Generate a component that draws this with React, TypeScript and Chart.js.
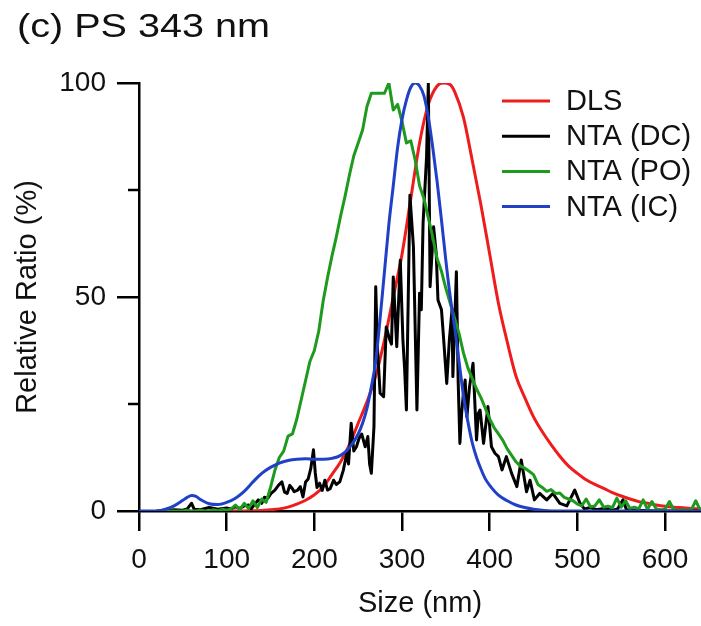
import React, { useEffect, useRef } from "react";
import { Chart, registerables } from "chart.js";

Chart.register(...registerables);

const FONT = "'Liberation Sans', Arial, sans-serif";
const TITLE = "(c) PS 343 nm";
const X_TITLE = "Size (nm)";
const Y_TITLE = "Relative Ratio (%)";
const SERIES_LABELS = ["DLS", "NTA (DC)", "NTA (PO)", "NTA (IC)"];
const SERIES_COLORS = ["#ee1c1c", "#000000", "#1e9a1e", "#2040c8"];
const X_TICKS = [0, 100, 200, 300, 400, 500, 600];
const Y_TICKS = [0, 50, 100];
const Y_MINOR_TICKS = [25, 75];
const X_MIN = 0;
const X_MAX = 641;
const Y_MIN = 0;
const Y_MAX = 100;

// DLS (red)
const dlsX = [100, 120, 130, 140, 150, 160, 170, 180, 190, 200, 210, 220, 230, 240, 250, 260, 270, 280, 290, 300, 310, 320, 330, 340, 347, 355, 360, 370, 380, 390, 400, 410, 420, 430, 440, 450, 460, 470, 480, 490, 500, 510, 520, 530, 540, 550, 560, 570, 580, 590, 600, 610, 620, 630, 641];
const dlsY = [0, 0, 0.05, 0.1, 0.3, 0.5, 0.9, 1.6, 2.5, 3.8, 5.6, 8.5, 11.5, 15.5, 20.5, 25.5, 31.5, 40, 50, 60, 73, 86, 95, 99.3, 100, 99.6, 98, 92, 82, 71.5, 60, 48.5, 39.5, 31.5, 26.5, 22, 18.5, 15.5, 12.8, 10.5, 8.8, 7.3, 6.2, 5.3, 4.3, 3.5, 2.8, 2.2, 1.8, 1.4, 1.1, 0.9, 0.75, 0.6, 0.5];

// NTA (DC) (black)
const dcX = [20, 30, 40, 50, 55, 60, 63, 70, 80, 90, 100, 105, 110, 115, 120, 125, 128, 132, 136, 140, 143, 147, 151, 155, 159, 163, 166, 169, 172, 175, 177, 181, 184, 187, 190, 193, 196, 199, 201, 203, 206, 209, 212, 215, 218, 222, 225, 229, 233, 237, 239, 242, 245, 248, 251, 254, 258, 261, 263, 265, 268, 270, 272, 275, 279, 282, 286, 288, 290, 294, 298, 301, 303, 305, 309, 313, 317, 320, 322, 324, 328, 330, 332, 336, 339, 341, 345, 347, 351, 354, 357, 358, 362, 364, 366, 368, 370, 372, 374, 377, 381, 385, 387, 389, 393, 398, 402, 406, 410, 414, 419, 425, 431, 436, 442, 446, 451, 457, 465, 472, 480, 488, 497, 503, 508, 515, 522, 530, 540, 546, 552, 556, 565, 575, 590, 641];
const dcY = [0, 0, 0.3, 0.2, 0.5, 1.8, 0.4, 0.3, 0.8, 0.4, 0.7, 0.5, 1.0, 0.6, 1.2, 1.4, 0.5, 1.6, 2.6, 1.8, 3.2, 3.0, 4.2, 4.9, 6.0, 6.8, 4.4, 4.1, 6.0, 5.2, 4.5, 4.9, 5.7, 3.3, 6.8, 7.5, 10, 14.3, 9, 5.5, 6.5, 4.8, 7.2, 4.9, 5.2, 7.2, 6.2, 6.8, 9.5, 13.5, 11, 20.5, 14, 15, 17, 18, 15, 17.4, 11, 8.8, 19.7, 52.4, 38, 27.5, 26.7, 43, 40, 39, 54.7, 38.4, 58.6, 40, 33, 23.6, 73.8, 61.8, 23.6, 50.9, 47, 67.2, 82.8, 100, 52.4, 66.4, 60.2, 49.3, 47, 41.5, 29.8, 40, 47, 31.4, 55.9, 30.6, 15.8, 22.8, 27.5, 30.6, 22, 29, 34.5, 16.6, 22.8, 23.6, 15.8, 24.4, 15, 13.5, 12.7, 9.6, 12.7, 8.8, 5.7, 11.9, 4.5, 7.2, 2.6, 4.1, 2.6, 4.1, 1.8, 1.2, 4.9, 1.8, 0.5, 0.8, 0.3, 0.6, 0.2, 0.5, 2.6, 0.3, 0.2, 0.1, 0, 0];

// NTA (PO) (green)
const poX = [20, 25, 30, 35, 40, 45, 50, 55, 60, 65, 70, 75, 80, 85, 90, 95, 100, 105, 110, 115, 120, 125, 130, 135, 140, 145, 150, 155, 160, 165, 170, 175, 180, 185, 190, 195, 200, 205, 210, 215, 220, 225, 230, 235, 240, 245, 250, 255, 260, 265, 270, 275, 280, 285, 290, 295, 300, 305, 310, 315, 320, 325, 330, 335, 340, 345, 350, 355, 360, 365, 370, 375, 380, 385, 390, 395, 400, 405, 410, 415, 420, 425, 430, 435, 440, 445, 450, 455, 460, 465, 470, 475, 480, 485, 490, 495, 500, 505, 510, 515, 520, 525, 530, 535, 540, 545, 550, 555, 560, 565, 570, 575, 580, 585, 590, 595, 600, 605, 610, 615, 620, 625, 630, 635, 640];
const poY = [0, 0, 0, 0, 0, 0, 0, 0.2, 0, 0, 0.2, 0, 0, 0.3, 0, 0.4, 0.2, 0.5, 1.4, 0.3, 1.8, 0.6, 2.4, 0.8, 2.8, 2.0, 5.5, 9.5, 12.5, 14, 17.5, 18, 21.5, 26, 30.5, 35, 37.5, 42, 49, 54.5, 59.5, 64, 69, 73.5, 78.5, 83, 86, 89, 94.5, 97.6, 97.6, 97.6, 97.6, 100, 93.7, 95, 91, 86, 86.5, 82, 76, 73, 68.5, 64, 59, 56, 52, 48.5, 45, 41.5, 37, 33.5, 31, 28.5, 26.5, 24, 21.5, 19.5, 18, 16.5, 14.5, 13, 11.5, 10.5, 10, 9.3, 8.5, 6.2, 5.5, 4.6, 5, 4.1, 4.2, 3.2, 2.8, 2.4, 1.6, 1.2, 2.8, 1.0, 1.2, 2.6, 0.9, 1.1, 0.8, 3.0, 0.9, 2.4, 0.6, 0.9, 0.5, 2.6, 0.4, 2.2, 0.5, 0.3, 0.4, 2.2, 0.3, 0.2, 0.3, 0.2, 0.3, 2.4, 0.2];

// NTA (IC) (blue)
const icX = [0, 10, 20, 25, 30, 40, 50, 55, 60, 65, 70, 80, 90, 100, 110, 120, 130, 140, 150, 160, 170, 180, 190, 200, 210, 220, 230, 240, 250, 255, 260, 265, 270, 275, 280, 285, 290, 295, 300, 305, 310, 315, 320, 325, 330, 335, 340, 345, 350, 355, 360, 365, 370, 375, 380, 385, 390, 395, 400, 410, 420, 430, 440, 450, 460, 470, 500, 641];
const icY = [0, 0, 0, 0.1, 0.4, 1.2, 2.5, 3.2, 3.6, 3.4, 2.7, 1.7, 1.5, 2.0, 3.0, 4.6, 6.8, 8.8, 10.2, 11.2, 11.8, 12.1, 12.2, 12.1, 12.1, 12.3, 13, 14.8, 18, 20.5, 24, 29, 35, 45, 56, 67, 76, 85, 91.5, 96, 99, 100, 99.3, 97, 92, 85, 77, 68, 58.5, 50, 43, 35, 27, 21, 16, 12.5, 9.8, 7.5, 6, 3.7, 2.4, 1.4, 0.8, 0.4, 0.15, 0, 0, 0];

const toPoints = (xs: number[], ys: number[]) => xs.map((x, i) => ({ x, y: ys[i] }));

const overlayPlugin = {
  id: "overlay",
  afterDraw(chart: any) {
    const ctx = chart.ctx as CanvasRenderingContext2D;
    const yScale = chart.scales.y;
    const area = chart.chartArea;
    ctx.save();
    // minor y ticks
    ctx.strokeStyle = "#000";
    ctx.lineWidth = 2.5;
    for (const v of Y_MINOR_TICKS) {
      const py = Math.round(yScale.getPixelForValue(v));
      ctx.beginPath();
      ctx.moveTo(area.left - 11, py);
      ctx.lineTo(area.left, py);
      ctx.stroke();
    }
    // title
    ctx.fillStyle = "#111";
    ctx.font = `33px ${FONT}`;
    ctx.textBaseline = "alphabetic";
    ctx.textAlign = "left";
    ctx.save();
    ctx.translate(17, 37);
    ctx.scale(1.2, 1);
    ctx.fillText(TITLE, 0, 0);
    ctx.restore();
    // legend
    ctx.font = `29px ${FONT}`;
    ctx.textBaseline = "middle";
    const lx = area.right - 199;
    const ly = area.top + 18;
    const gap = 35.2;
    SERIES_LABELS.forEach((label, i) => {
      const yy = ly + i * gap;
      ctx.strokeStyle = SERIES_COLORS[i];
      ctx.lineWidth = 3;
      ctx.beginPath();
      ctx.moveTo(lx, yy);
      ctx.lineTo(lx + 48, yy);
      ctx.stroke();
      ctx.fillStyle = "#111";
      ctx.fillText(label, lx + 64, yy + 1);
    });
    ctx.restore();
  },
};

export default function App() {
  const ref = useRef<HTMLCanvasElement | null>(null);
  useEffect(() => {
    if (!ref.current) return;
    const series = [
      { xs: dlsX, ys: dlsY, smooth: true, order: 3, w: 3 },
      { xs: dcX, ys: dcY, smooth: false, order: 2, w: 3 },
      { xs: poX, ys: poY, smooth: false, order: 1, w: 3 },
      { xs: icX, ys: icY, smooth: true, order: 0, w: 3 },
    ];
    const chart = new Chart(ref.current, {
      type: "line",
      data: {
        datasets: series.map((s, i) => ({
          label: SERIES_LABELS[i],
          data: toPoints(s.xs, s.ys),
          borderColor: SERIES_COLORS[i],
          backgroundColor: SERIES_COLORS[i],
          borderWidth: s.w,
          pointRadius: 0,
          fill: false,
          tension: 0,
          cubicInterpolationMode: s.smooth ? "monotone" : "default",
          order: s.order,
          borderJoinStyle: "round",
        })) as any,
      },
      options: {
        animation: false,
        responsive: true,
        maintainAspectRatio: false,
        layout: { padding: { top: 83, left: 0, right: 0, bottom: 0 } },
        plugins: {
          legend: { display: false },
          title: { display: false },
          tooltip: { enabled: false },
        },
        scales: {
          x: {
            type: "linear",
            min: X_MIN,
            max: X_MAX,
            afterBuildTicks: (s: any) => {
              s.ticks = X_TICKS.map((v) => ({ value: v }));
            },
            afterFit: (s: any) => {
              s.height = 115;
            },
            ticks: {
              font: { family: FONT, size: 28 },
              color: "#111",
              padding: 12,
              maxRotation: 0,
              autoSkip: false,
              callback: (v: any) => String(v),
            },
            grid: {
              drawOnChartArea: false,
              drawTicks: true,
              tickLength: 20,
              lineWidth: 2.5,
              color: "#000",
              tickColor: "#000",
            },
            border: { display: true, color: "#000", width: 2.5 },
            title: {
              display: true,
              text: X_TITLE,
              font: { family: FONT, size: 29 },
              color: "#111",
              padding: { top: 0, bottom: 5 },
            },
          },
          y: {
            type: "linear",
            min: Y_MIN,
            max: Y_MAX,
            afterBuildTicks: (s: any) => {
              s.ticks = Y_TICKS.map((v) => ({ value: v }));
            },
            afterFit: (s: any) => {
              s.width = 139;
            },
            ticks: {
              font: { family: FONT, size: 28 },
              color: "#111",
              padding: 11,
              autoSkip: false,
              callback: (v: any) => String(v),
            },
            grid: {
              drawOnChartArea: false,
              drawTicks: true,
              tickLength: 22,
              lineWidth: 2.5,
              color: "#000",
              tickColor: "#000",
            },
            border: { display: true, color: "#000", width: 2.5 },
            title: {
              display: true,
              text: Y_TITLE,
              font: { family: FONT, size: 29 },
              color: "#111",
              padding: { top: 11, bottom: 0 },
            },
          },
        },
      },
      plugins: [overlayPlugin],
    });
    return () => chart.destroy();
  }, []);

  return (
    <div style={{ position: "absolute", left: 0, top: 0, width: 701, height: 626, background: "#fff" }}>
      <canvas ref={ref} />
    </div>
  );
}
